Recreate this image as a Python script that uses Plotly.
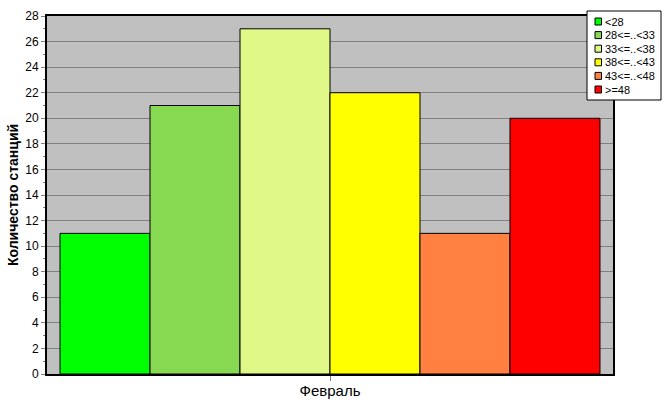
import plotly.graph_objects as go

categories = ["Февраль"]
series_names = ["<28", "28<=..<33", "33<=..<38", "38<=..<43", "43<=..<48", ">=48"]
series_values = [11, 21, 27, 22, 11, 20]
series_colors = ["#00FF00", "#88D952", "#E0F888", "#FFFF00", "#FF8040", "#FF0000"]
y_ticks = list(range(0, 29, 2))

W, H = 667, 415
L, R, T, B = 47, 54, 16, 41
PW, PH = W - L - R, H - T - B


def px(x):
    return (x - L) / PW


def py(y):
    return (H - B - y) / PH


fig = go.Figure()
for name, val, col in zip(series_names, series_values, series_colors):
    fig.add_trace(go.Bar(
        x=categories, y=[val], name=name, showlegend=False,
        marker=dict(color=col, line=dict(color="black", width=1)),
    ))

# legend box (drawn manually to match compact Excel-style legend)
shapes = [dict(type="rect", xref="paper", yref="paper",
               x0=px(587), x1=px(661), y0=py(100), y1=py(11),
               fillcolor="white", line=dict(color="black", width=1), layer="above")]
annotations = []
for i, (name, col) in enumerate(zip(series_names, series_colors)):
    cy = 21.5 + 13.6 * i
    shapes.append(dict(type="rect", xref="paper", yref="paper",
                       x0=px(595), x1=px(601.5), y0=py(cy + 3.5), y1=py(cy - 3.5),
                       fillcolor=col, line=dict(color="black", width=1), layer="above"))
    annotations.append(dict(xref="paper", yref="paper", x=px(604), y=py(cy),
                            xanchor="left", yanchor="middle", showarrow=False,
                            text=name, font=dict(size=11, color="black"),
                            borderpad=0))

fig.update_layout(
    width=W, height=H,
    margin=dict(l=L, r=R, t=T, b=B, autoexpand=False),
    paper_bgcolor="white", plot_bgcolor="#C0C0C0",
    barmode="group", bargap=0.046, bargroupgap=0,
    font=dict(family="Arial, Liberation Sans", size=12, color="black"),
    showlegend=False,
    shapes=shapes, annotations=annotations,
)
fig.update_yaxes(
    range=[0, 28], tickvals=y_ticks, ticktext=[str(v) for v in y_ticks],
    showgrid=True, gridcolor="#808080", gridwidth=1,
    ticks="outside", ticklen=4, tickcolor="#808080",
    minor=dict(dtick=1, ticks="outside", ticklen=2, tickcolor="#808080", showgrid=False),
    showline=True, linecolor="black", linewidth=2, mirror=True,
    zeroline=False, automargin=False,
    title=dict(text="<b>Количество станций</b>", font=dict(size=14), standoff=3),
)
fig.update_xaxes(
    ticks="outside", ticklen=5, tickcolor="#808080",
    tickfont=dict(size=15), ticklabelstandoff=-3,
    showline=True, linecolor="black", linewidth=2, mirror=True,
    showgrid=False, automargin=False,
)
fig.write_html(
    "out.html",
    config={"displayModeBar": False},
    post_script="document.body.style.margin='0';document.body.style.overflow='hidden';",
)
